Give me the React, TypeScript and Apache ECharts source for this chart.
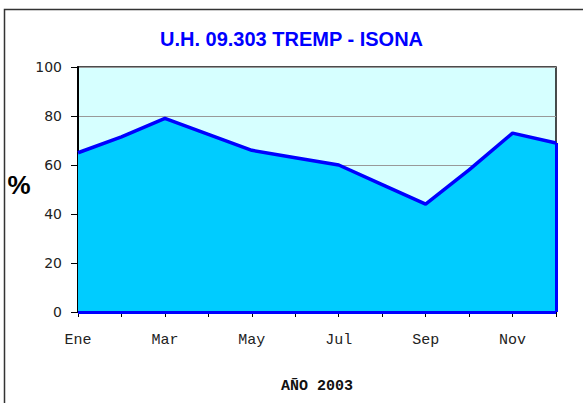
import React, { useEffect, useRef } from "react";
import * as echarts from "echarts";

const months = ["Ene", "Feb", "Mar", "Abr", "May", "Jun", "Jul", "Ago", "Sep", "Oct", "Nov", "Dic"];
const values = [65, 71.5, 79, 72.5, 66, 63, 60, 52, 44, 58, 73, 69];
const title = "U.H. 09.303 TREMP - ISONA";
const xName = "AÑO 2003";
const yName = "%";

export default function App() {
  const ref = useRef<HTMLDivElement>(null);
  useEffect(() => {
    document.body.style.margin = "0";
    const chart = echarts.init(ref.current!, null, { renderer: "svg" });
    const last = months.length - 1;
    chart.setOption({
      animation: false,
      backgroundColor: "#ffffff",
      title: {
        text: title,
        left: "center",
        top: 24,
        textStyle: { fontFamily: "Liberation Sans", fontWeight: "bold", fontSize: 20, color: "#0000FF" },
      },
      graphic: [
        {
          type: "rect",
          shape: { x: 4.5, y: 9.5, width: 640, height: 440 },
          style: { fill: "none", stroke: "#333", lineWidth: 1.5 },
          silent: true,
          z: -1,
        },
        {
          type: "text",
          x: 19,
          y: 185,
          style: {
            text: yName,
            fontFamily: "Liberation Sans",
            fontWeight: "bold",
            fontSize: 26,
            fill: "#000",
            align: "center",
            verticalAlign: "middle",
          },
          silent: true,
        },
      ],
      grid: {
        left: 78,
        right: 27,
        top: 67,
        bottom: 91,
        show: true,
        backgroundColor: "#D6FFFF",
        borderColor: "#111",
        borderWidth: 1.5,
      },
      xAxis: {
        type: "category",
        data: months,
        boundaryGap: false,
        name: xName,
        nameLocation: "middle",
        nameGap: 67,
        nameTextStyle: { fontFamily: "Liberation Mono", fontWeight: "bold", fontSize: 15, color: "#111" },
        axisLine: { lineStyle: { color: "#000", width: 2 } },
        axisTick: { show: true, length: 5, interval: 0, lineStyle: { color: "#000" } },
        axisLabel: {
          interval: 1,
          margin: 21,
          fontFamily: "Liberation Mono",
          fontSize: 15,
          color: "#222",
        },
        splitLine: { show: false },
      },
      yAxis: {
        type: "value",
        min: 0,
        max: 100,
        interval: 20,
        axisLine: { show: true, lineStyle: { color: "#000", width: 2 } },
        axisTick: { show: true, length: 7, lineStyle: { color: "#000" } },
        axisLabel: { margin: 16, fontFamily: "DejaVu Sans", fontSize: 14, color: "#222" },
        splitLine: { show: true, lineStyle: { color: "#999", width: 1 } },
      },
      series: [
        {
          type: "line",
          data: values,
          symbol: "none",
          lineStyle: { color: "#0000FF", width: 3.5 },
          areaStyle: { color: "#00CCFF", opacity: 1 },
          z: 3,
          markLine: {
            silent: true,
            symbol: "none",
            label: { show: false },
            lineStyle: { color: "#0000FF", width: 3, type: "solid" },
            data: [
              [{ coord: [months[last], 0] }, { coord: [months[last], values[last]] }],
              [{ coord: [months[0], 0] }, { coord: [months[last], 0] }],
            ],
          },
        },
      ],
    });
    return () => chart.dispose();
  }, []);
  return <div ref={ref} style={{ width: 583, height: 403 }} />;
}
